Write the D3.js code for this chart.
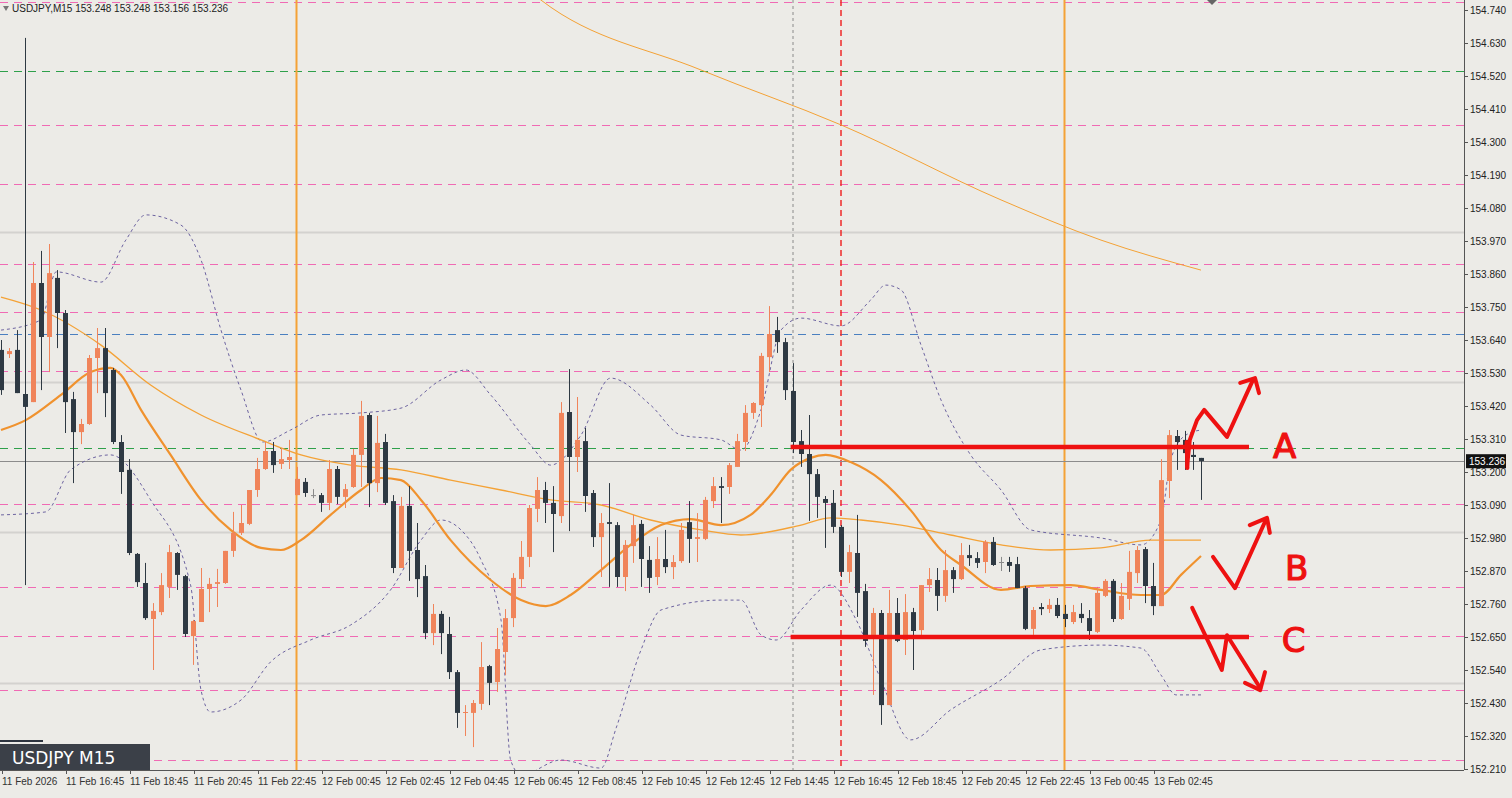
<!DOCTYPE html>
<html>
<head>
<meta charset="utf-8">
<script src="https://cdn.jsdelivr.net/npm/d3@7"></script>
<style>
  html, body { margin: 0; padding: 0; background: #ecebe7; overflow: hidden; }
  text { font-family: "Liberation Sans", Arial, sans-serif; }
</style>
</head>
<body>
<svg id="chart" width="1512" height="798"></svg>
<script>
// candles: [open, high, low, close], 15 minute bars
let candles = [
  [153.607,153.640,153.457,153.473],[153.593,153.613,153.580,153.603],[153.607,153.673,153.463,153.463],
  [153.460,154.647,152.823,153.417],[153.433,153.900,153.433,153.830],[153.830,153.937,153.473,153.650],
  [153.650,153.960,153.533,153.863],[153.847,153.873,153.613,153.730],[153.730,153.740,153.330,153.433],
  [153.443,153.467,153.163,153.333],[153.333,153.377,153.293,153.360],[153.360,153.590,153.357,153.580],
  [153.580,153.680,153.463,153.613],[153.613,153.680,153.383,153.463],[153.540,153.547,153.293,153.300],
  [153.300,153.323,153.127,153.200],[153.207,153.243,152.923,152.930],[152.927,152.930,152.817,152.833],
  [152.830,152.897,152.707,152.713],[152.710,152.763,152.540,152.737],[152.733,152.863,152.723,152.823],
  [152.817,152.957,152.780,152.933],[152.930,152.933,152.807,152.857],[152.853,152.857,152.650,152.660],
  [152.653,152.707,152.557,152.703],[152.700,152.880,152.700,152.810],[152.810,152.847,152.733,152.827],
  [152.827,152.877,152.750,152.833],[152.830,152.937,152.827,152.937],[152.937,153.067,152.917,152.997],
  [152.997,153.090,152.990,153.030],[153.027,153.140,153.023,153.140],[153.140,153.247,153.117,153.210],
  [153.210,153.300,153.207,153.270],[153.270,153.300,153.197,153.223],[153.227,153.280,153.210,153.243],
  [153.240,153.307,153.210,153.250],[153.123,153.217,153.123,153.177],[153.167,153.180,153.117,153.130],
  [153.123,153.143,153.113,153.123],[153.123,153.130,153.067,153.097],[153.097,153.240,153.073,153.210],
  [153.210,153.220,153.093,153.117],[153.117,153.160,153.080,153.143],[153.150,153.277,153.147,153.257],
  [153.257,153.437,153.150,153.387],[153.390,153.397,153.083,153.163],[153.163,153.387,153.133,153.297],
  [153.300,153.327,153.090,153.097],[153.103,153.123,152.863,152.880],[152.880,153.117,152.880,153.087],
  [153.087,153.153,152.837,152.937],[152.940,153.030,152.783,152.843],[152.853,152.890,152.643,152.663],
  [152.663,152.760,152.623,152.727],[152.727,152.737,152.593,152.663],[152.660,152.717,152.510,152.533],
  [152.533,152.540,152.347,152.397],[152.397,152.423,152.320,152.400],[152.397,152.440,152.283,152.430],
  [152.427,152.633,152.407,152.550],[152.553,152.557,152.423,152.497],[152.500,152.680,152.467,152.610],
  [152.600,152.743,152.523,152.713],[152.713,152.863,152.683,152.847],[152.843,152.970,152.813,152.917],
  [152.917,153.090,152.883,153.080],[153.077,153.183,153.033,153.140],[153.140,153.167,153.030,153.097],
  [153.097,153.153,152.933,153.060],[153.053,153.433,153.030,153.397],[153.400,153.543,153.003,153.250],
  [153.250,153.450,153.200,153.307],[153.303,153.347,153.067,153.120],[153.130,153.140,152.950,152.983],
  [152.983,153.063,152.850,153.030],[153.033,153.163,152.817,153.027],[153.023,153.033,152.817,152.850],
  [152.850,152.973,152.803,152.957],[152.953,153.057,152.897,153.023],[153.027,153.040,152.817,152.910],
  [152.907,152.953,152.797,152.847],[152.850,152.983,152.823,152.910],[152.910,153.007,152.863,152.883],
  [152.883,152.923,152.843,152.900],[152.903,153.030,152.897,153.007],[153.033,153.103,152.897,152.977],
  [152.977,153.063,152.900,152.983],[152.977,153.117,152.973,153.107],[153.103,153.183,153.080,153.153],
  [153.153,153.183,153.030,153.147],[153.150,153.230,153.127,153.223],[153.217,153.327,153.217,153.303],
  [153.300,153.423,153.270,153.397],[153.397,153.433,153.377,153.430],[153.423,153.597,153.350,153.587],
  [153.583,153.753,153.533,153.660],[153.673,153.717,153.597,153.633],[153.633,153.647,153.440,153.473],
  [153.470,153.563,153.263,153.300],[153.303,153.340,153.217,153.260],[153.260,153.390,153.037,153.193],
  [153.193,153.210,153.047,153.117],[153.110,153.120,152.947,153.097],[153.097,153.140,152.997,153.017],
  [153.017,153.023,152.850,152.867],[152.867,152.957,152.830,152.933],[152.930,153.057,152.717,152.797],
  [152.803,152.827,152.617,152.637],[152.650,152.747,152.457,152.730],[152.730,152.740,152.357,152.423],
  [152.423,152.807,152.423,152.730],[152.730,152.780,152.633,152.637],[152.640,152.793,152.590,152.733],
  [152.733,152.747,152.540,152.670],[152.673,152.823,152.650,152.823],[152.823,152.880,152.800,152.843],
  [152.840,152.880,152.737,152.787],[152.787,152.940,152.767,152.873],[152.873,152.883,152.797,152.843],
  [152.843,152.963,152.840,152.923],[152.923,152.957,152.887,152.913],[152.913,152.933,152.880,152.897],
  [152.900,152.973,152.863,152.967],[152.967,152.983,152.887,152.890],[152.900,152.917,152.870,152.900],
  [152.900,152.917,152.867,152.887],[152.893,152.917,152.813,152.813],[152.813,152.820,152.673,152.677],
  [152.677,152.750,152.657,152.740],[152.750,152.763,152.723,152.743],[152.743,152.777,152.730,152.757],
  [152.757,152.780,152.713,152.720],[152.727,152.757,152.683,152.710],[152.700,152.757,152.693,152.733],
  [152.727,152.763,152.697,152.713],[152.713,152.740,152.640,152.670],[152.667,152.817,152.663,152.797],
  [152.787,152.843,152.783,152.837],[152.837,152.843,152.700,152.710],[152.710,152.830,152.707,152.787],
  [152.777,152.937,152.740,152.867],[152.863,152.953,152.830,152.940],[152.943,152.950,152.763,152.820],
  [152.820,152.897,152.723,152.753],[152.753,153.243,152.753,153.173],[153.170,153.340,153.113,153.323],
  [153.320,153.340,153.207,153.300],[153.307,153.337,153.207,153.263],[153.257,153.300,153.207,153.250],
  [153.247,153.247,153.107,153.236]
];

// indicator readings: [bar index, price]
let maFast = [[0,153.340],[3.1,153.373],[7.5,153.457],[11.2,153.533],[13.7,153.547],[15,153.523],[17.5,153.407],
  [21.2,153.257],[25,153.107],[28.7,153.007],[32.5,152.947],[35,152.940],[37.5,152.973],[41.2,153.057],[45,153.140],
  [47.5,153.180],[50,153.173],[52.5,153.107],[56.2,152.973],[61.2,152.840],[65,152.773],[68.1,152.753],[71.2,152.790],
  [75,152.873],[78.7,152.957],[82.5,153.023],[86.2,153.043],[90,153.023],[93.7,153.057],[96.2,153.123],[98.7,153.207],
  [101.2,153.247],[103.1,153.257],[106.2,153.233],[110,153.173],[113.7,153.073],[117.5,152.940],[120,152.890],
  [125,152.807],[128.7,152.820],[133.7,152.823],[137.5,152.807],[142.5,152.790],[145,152.790],[147.5,152.857],[150,152.920]];
let maSlow = [[0,153.783],[5,153.740],[12.5,153.623],[18.7,153.490],[25,153.390],[32.5,153.307],[37.5,153.257],
  [43.7,153.223],[50,153.207],[56.2,153.173],[62.5,153.140],[68.7,153.107],[75,153.090],[81.2,153.040],[87.5,153.007],
  [92.5,152.990],[100,153.023],[103.7,153.047],[107.5,153.040],[112.5,153.023],[118.7,152.990],[125,152.957],
  [131.2,152.940],[137.5,152.947],[143.7,152.973],[150,152.973]];
let maLong = [[64,154.850],[67.5,154.773],[87.5,154.540],[105,154.357],[125,154.107],[137.5,153.973],[150,153.873]];
let bandUp = [[0,153.673],[5,153.707],[6.9,153.867],[12.5,153.833],[15.6,153.973],[18.1,154.057],[22.5,154.023],
  [25,153.907],[27.5,153.673],[30,153.473],[32.7,153.300],[36.2,153.340],[40,153.390],[45,153.397],[50,153.413],
  [55,153.507],[58.1,153.540],[61.2,153.457],[66.2,153.290],[68.7,153.223],[72.5,153.323],[76.2,153.513],
  [81.2,153.423],[85,153.323],[90,153.307],[92.5,153.273],[95,153.407],[97.5,153.673],[100,153.713],[105,153.687],
  [108.7,153.773],[110.6,153.823],[112.5,153.807],[115,153.623],[117.5,153.440],[121.2,153.257],[125,153.140],
  [128.7,153.007],[137.5,152.980],[142.5,152.957],[145,153.040],[146.2,153.240],[148.1,153.323],[150,153.340]];
let bandLow = [[0,153.057],[5.6,153.067],[8.7,153.207],[13.7,153.257],[18.7,153.107],[23.7,152.823],[25,152.473],
  [26.2,152.400],[30,152.440],[33.7,152.567],[38.7,152.640],[43.7,152.690],[48.7,152.807],[52.5,152.973],[55,153.040],
  [57.5,153.007],[60,152.907],[62.5,152.707],[63.7,152.240],[65,152.190],[70,152.240],[75,152.213],[76.9,152.347],
  [80,152.607],[82.5,152.740],[90,152.773],[92.5,152.773],[95,152.657],[96.9,152.640],[100,152.740],[103.7,152.823],
  [106.9,152.707],[110,152.507],[113.7,152.307],[118.7,152.407],[125,152.507],[130,152.607],[137.5,152.623],
  [142.5,152.613],[145,152.523],[146.9,152.457],[150,152.457]];

let levelsPink = [154.767,154.357,154.160,153.893,153.733,153.537,153.093,152.817,152.653,152.473,152.240];
let levelsGreen = [154.537,153.280];
let levelsBlue = [153.660];
let levelsGrey = [154.000,153.500,153.000,152.497];
let vOrange = [37,133];
let vGrey = [99];
let vRed = [105];

let priceTicks = [154.740,154.630,154.520,154.410,154.300,154.190,154.080,153.970,153.860,153.750,153.640,153.530,
  153.420,153.310,153.200,153.090,152.980,152.870,152.760,152.650,152.540,152.430,152.320,152.210];
let timeLabels = ["11 Feb 2026","11 Feb 16:45","11 Feb 18:45","11 Feb 20:45","11 Feb 22:45","12 Feb 00:45",
  "12 Feb 02:45","12 Feb 04:45","12 Feb 06:45","12 Feb 08:45","12 Feb 10:45","12 Feb 12:45","12 Feb 14:45",
  "12 Feb 16:45","12 Feb 18:45","12 Feb 20:45","12 Feb 22:45","13 Feb 00:45","13 Feb 02:45"];
let lastPrice = 153.236;

// hand drawn scenario marks
let zoneA = 153.283, zoneC = 152.650, zoneFrom = 98.7, zoneTo = 156;
let pathA = [[148.25,153.217],[148.6,153.307],[149.5,153.373],[150.4,153.407],[153.25,153.317],[156.5,153.507]];
let headA = [[154.9,153.497],[156.75,153.513],[157.25,153.463]];
let tickA = [[148.2,153.300],[148.3,153.213]];
let pathB = [[151.5,152.917],[154.25,152.813],[158.1,153.040]];
let headB = [[156.1,153.023],[158.25,153.047],[158.6,152.997]];
let pathC = [[148.9,152.747],[152.6,152.540],[153.25,152.656],[157.4,152.480]];
let headC = [[155.5,152.497],[157.4,152.473],[158,152.533]];
let letters = [["A",159,153.280],["B",160.5,152.873],["C",160.1,152.633]];

const W = 1464, H = 770;
const svg = d3.select("#chart");
const x = d3.scaleLinear().domain([0, 1]).range([1, 9]);
const y = d3.scaleLinear().domain([152.21, 154.74]).range([769, 10]);

svg.append("defs").append("clipPath").attr("id", "plot")
  .append("rect").attr("width", W).attr("height", H);
const g = svg.append("g").attr("clip-path", "url(#plot)");

// horizontal levels
function hlines(vals, color, dash, width) {
  g.selectAll(null).data(vals).enter().append("line")
    .attr("x1", 0).attr("x2", W)
    .attr("y1", d => Math.round(y(d)) + 0.5).attr("y2", d => Math.round(y(d)) + 0.5)
    .attr("stroke", color).attr("stroke-width", width)
    .attr("stroke-dasharray", dash);
}
hlines(levelsGrey, "#d3d2cf", null, 2);
hlines(levelsPink, "#f06ab4", "8,6", 1);
hlines(levelsGreen, "#2ea04a", "8,6", 1.2);
hlines(levelsBlue, "#4a7fc0", "8,6", 1.2);

// vertical markers
g.selectAll(null).data(vOrange).enter().append("line")
  .attr("x1", d => x(d) - 0.5).attr("x2", d => x(d) - 0.5).attr("y1", 0).attr("y2", H)
  .attr("stroke", "#f4a236").attr("stroke-width", 2);
g.selectAll(null).data(vGrey).enter().append("line")
  .attr("x1", d => x(d)).attr("x2", d => x(d)).attr("y1", 0).attr("y2", H)
  .attr("stroke", "#8a8a8a").attr("stroke-dasharray", "3,3");
g.selectAll(null).data(vRed).enter().append("line")
  .attr("x1", d => x(d)).attr("x2", d => x(d)).attr("y1", 0).attr("y2", H)
  .attr("stroke", "#ee2a2a").attr("stroke-width", 1.5).attr("stroke-dasharray", "6,4");

// current price line
g.append("line").attr("x1", 0).attr("x2", W)
  .attr("y1", Math.round(y(lastPrice)) + 0.5).attr("y2", Math.round(y(lastPrice)) + 0.5)
  .attr("stroke", "#8c8c8c");

// indicators
const line = d3.line().x(d => x(d[0])).y(d => y(d[1])).curve(d3.curveMonotoneX);
g.append("path").datum(bandUp).attr("d", line).attr("fill", "none")
  .attr("stroke", "#6c63a0").attr("stroke-dasharray", "3,3");
g.append("path").datum(bandLow).attr("d", line).attr("fill", "none")
  .attr("stroke", "#6c63a0").attr("stroke-dasharray", "3,3");
g.append("path").datum(maLong).attr("d", line).attr("fill", "none")
  .attr("stroke", "#f4a236").attr("stroke-width", 1);
g.append("path").datum(maSlow).attr("d", line).attr("fill", "none")
  .attr("stroke", "#f4a236").attr("stroke-width", 1.3);
g.append("path").datum(maFast).attr("d", line).attr("fill", "none")
  .attr("stroke", "#f0922e").attr("stroke-width", 2.2);

// candles
const colorOf = d => d[3] > d[0] ? "#f0845a" : (d[3] < d[0] ? "#2e3943" : "#8a8a8a");
const bars = g.selectAll(".candle").data(candles).enter().append("g").attr("class", "candle");
bars.append("line")
  .attr("x1", (d, i) => Math.round(x(i)) + 0.5).attr("x2", (d, i) => Math.round(x(i)) + 0.5)
  .attr("y1", d => y(d[1])).attr("y2", d => y(d[2]))
  .attr("stroke", colorOf).attr("stroke-width", 1);
bars.append("rect")
  .attr("x", (d, i) => Math.round(x(i)) - 2)
  .attr("y", d => y(Math.max(d[0], d[3])))
  .attr("width", 5)
  .attr("height", d => Math.max(1, Math.abs(y(d[0]) - y(d[3]))))
  .attr("fill", colorOf);

// red scenario drawing
const hand = d3.line().x(d => x(d[0])).y(d => y(d[1]));
const red = "#ee1111";
[zoneA, zoneC].forEach(p => {
  g.append("line").attr("x1", x(zoneFrom)).attr("x2", x(zoneTo))
    .attr("y1", y(p)).attr("y2", y(p))
    .attr("stroke", red).attr("stroke-width", 4.5);
});
[pathA, headA, tickA, pathB, headB, pathC, headC].forEach(p => {
  g.append("path").datum(p).attr("d", hand).attr("fill", "none")
    .attr("stroke", red).attr("stroke-width", 4).attr("stroke-linecap", "round").attr("stroke-linejoin", "round");
});
g.selectAll(null).data(letters).enter().append("text")
  .attr("x", d => x(d[1])).attr("y", d => y(d[2]))
  .attr("dominant-baseline", "middle")
  .attr("font-size", 34).attr("fill", red).attr("stroke", red).attr("stroke-width", 1.2)
  .attr("stroke-linejoin", "round")
  .style("font-family", "'DejaVu Sans', sans-serif")
  .text(d => d[0]);

// frame
svg.append("line").attr("x1", W + 0.5).attr("x2", W + 0.5).attr("y1", 0).attr("y2", H)
  .attr("stroke", "#555");
svg.append("line").attr("x1", 0).attr("x2", W).attr("y1", H + 0.5).attr("y2", H + 0.5)
  .attr("stroke", "#555");

// price axis
const ax = svg.append("g").attr("transform", `translate(${W},0)`)
  .call(d3.axisRight(y).tickValues(priceTicks).tickFormat(d3.format(".3f")).tickSize(4));
ax.select(".domain").remove();
ax.selectAll("line").attr("stroke", "#555");
ax.selectAll("text").attr("font-size", 10).attr("fill", "#222").attr("x", 6);

// last price tag
svg.append("rect").attr("x", W + 2).attr("y", y(lastPrice) - 7).attr("height", 14)
  .attr("fill", "#111").attr("width", 40);
svg.append("text").attr("x", W + 5).attr("y", y(lastPrice) + 4)
  .attr("font-size", 10).attr("fill", "#fff").text(lastPrice.toFixed(3));

// time axis
const tx = svg.append("g").attr("transform", `translate(0,${H})`);
tx.selectAll("line").data(timeLabels).enter().append("line")
  .attr("x1", (d, i) => x(i * 8) + 1.5).attr("x2", (d, i) => x(i * 8) + 1.5)
  .attr("y1", 0).attr("y2", 4).attr("stroke", "#555");
tx.selectAll("text").data(timeLabels).enter().append("text")
  .attr("x", (d, i) => x(i * 8) + 1).attr("y", 15)
  .attr("font-size", 10).attr("fill", "#333").text(d => d);

// header
svg.append("path").attr("d", "M3,6 L9,6 L6,11 Z").attr("fill", "#777");
svg.append("text").attr("x", 12).attr("y", 12).attr("font-size", 10).attr("fill", "#222")
  .text("USDJPY,M15  153.248 153.248 153.156 153.236");
svg.append("path").attr("d", "M1207,0 L1217,0 L1212,5 Z").attr("fill", "#666");

// symbol badge
svg.append("line").attr("x1", 0).attr("x2", 43).attr("y1", 741).attr("y2", 741)
  .attr("stroke", "#2e3540").attr("stroke-width", 2);
svg.append("rect").attr("x", 0).attr("y", 744).attr("width", 150).attr("height", 26).attr("fill", "#3b4048");
svg.append("text").attr("x", 12).attr("y", 764).attr("font-size", 17).attr("fill", "#fff")
  .style("font-family", "'DejaVu Sans', sans-serif").text("USDJPY M15");
</script>
</body>
</html>
